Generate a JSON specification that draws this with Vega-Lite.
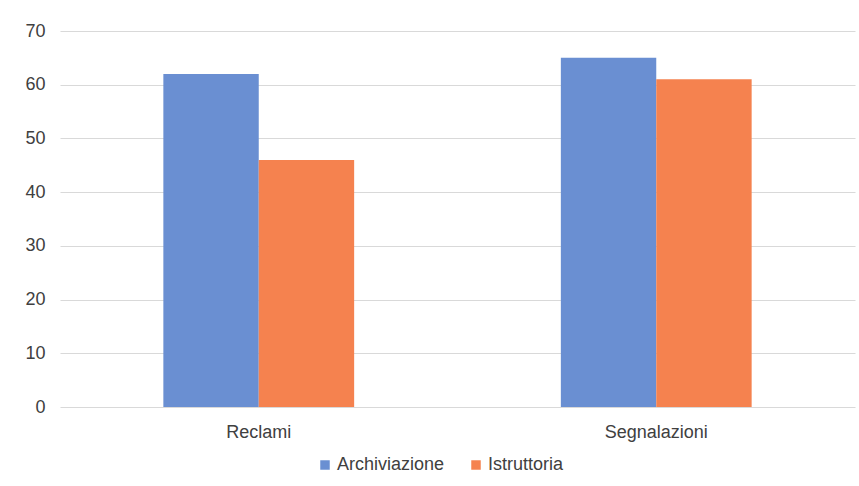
{
  "$schema": "https://vega.github.io/schema/vega-lite/v6.json",
  "autosize": "none",
  "width": 795,
  "height": 376,
  "padding": {"left": 60, "top": 31, "right": 4, "bottom": 79},
  "background": "white",
  "config": {
    "view": {"stroke": null},
    "font": "Liberation Sans"
  },
  "data": {
    "values": [
      {"categoria": "Reclami", "serie": "Archiviazione", "valore": 62},
      {"categoria": "Reclami", "serie": "Istruttoria", "valore": 46},
      {"categoria": "Segnalazioni", "serie": "Archiviazione", "valore": 65},
      {"categoria": "Segnalazioni", "serie": "Istruttoria", "valore": 61}
    ]
  },
  "mark": {"type": "bar"},
  "encoding": {
    "x": {
      "field": "categoria", "type": "nominal",
      "scale": {"paddingInner": 0.52, "paddingOuter": 0.26},
      "axis": {"title": null, "labelAngle": 0, "domain": false, "ticks": false, "labelFontSize": 18, "labelColor": "#404040", "labelPadding": 16}
    },
    "xOffset": {"field": "serie", "type": "nominal", "scale": {"paddingInner": 0, "paddingOuter": 0}},
    "y": {
      "field": "valore", "type": "quantitative",
      "scale": {"domain": [0, 70], "nice": false},
      "axis": {"title": null, "values": [0,10,20,30,40,50,60,70], "domain": false, "ticks": false, "labelFontSize": 18, "labelColor": "#404040", "labelPadding": 15, "gridColor": "#d9d9d9"}
    },
    "color": {
      "field": "serie", "type": "nominal",
      "scale": {"domain": ["Archiviazione", "Istruttoria"], "range": ["#6a8fd2", "#f5824f"]},
      "legend": {"title": null, "orient": "none", "direction": "horizontal", "legendX": 256, "legendY": 425, "symbolType": "square", "symbolSize": 90, "labelFontSize": 18, "labelColor": "#404040", "columnPadding": 22, "labelOffset": 3}
    }
  }
}
